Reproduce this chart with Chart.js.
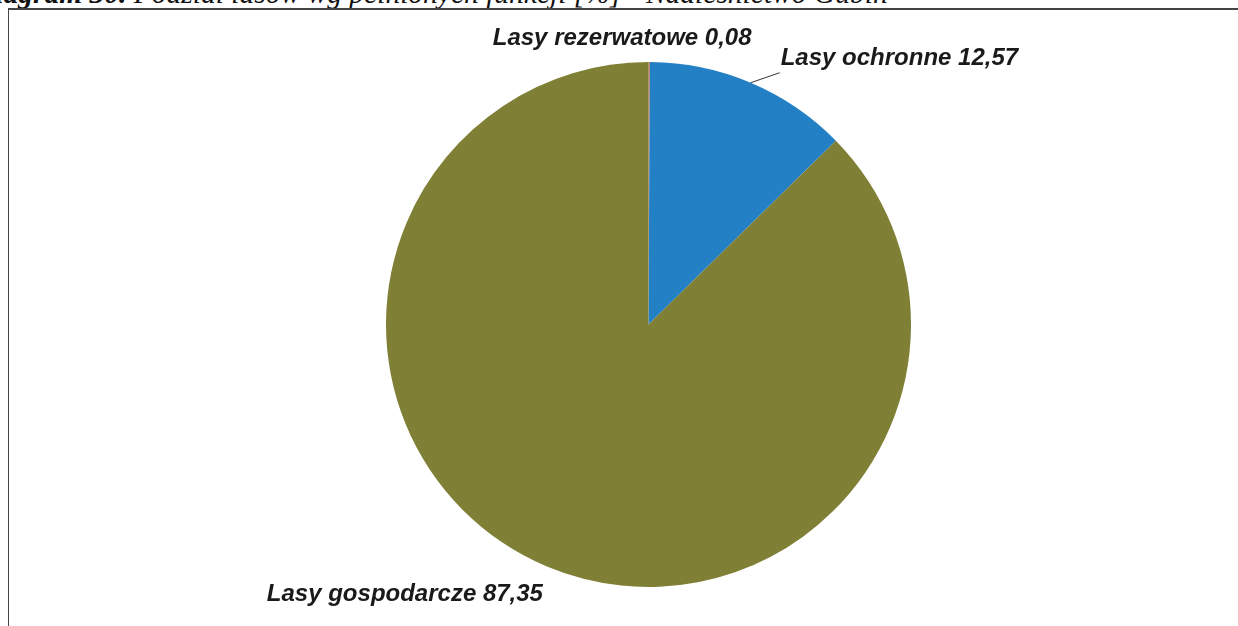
<!DOCTYPE html>
<html>
<head>
<meta charset="utf-8">
<script src="https://cdn.jsdelivr.net/npm/chart.js@4"></script>
<style>
  html, body { margin: 0; padding: 0; background: #ffffff; overflow: hidden; }
  #wrap { position: relative; width: 1238px; height: 626px; overflow: hidden; }
  #title { position: absolute; left: -26px; top: -21px; white-space: nowrap; line-height: 29px;
    font-family: "Liberation Serif", "DejaVu Serif", serif; font-style: italic; font-size: 29.5px; color: #111; }
  #frame { position: absolute; left: 8px; top: 8px; width: 1240px; height: 630px;
    border-left: 1px solid #444; border-top: 2px solid #444; box-sizing: border-box; }
  canvas { position: absolute; left: 0; top: 0; }
</style>
</head>
<body>
<div id="wrap">
  <div id="title"><b>Diagram 30.</b> Podział lasów wg pełnionych funkcji [%] - Nadleśnictwo Gubin</div>
  <div id="frame"></div>
  <canvas id="c" width="1238" height="626"></canvas>
</div>
<script>
const categories = ["Lasy rezerwatowe", "Lasy ochronne", "Lasy gospodarcze"];
const shares = [0.08, 12.57, 87.35];
const valueLabels = ["0,08", "12,57", "87,35"];
const sliceColors = ["#D9694A", "#2480C4", "#7F7F35"];

// label offsets relative to the slice's outer-edge mid point (layout only)
const labelPlacement = [
  { dx: -27, dy: -24, align: "center" },
  { dx: 30, dy: -24, align: "left", leader: true },
  { dx: -142, dy: 28, align: "center" }
];

const labelPlugin = {
  id: "sliceLabels",
  afterDatasetsDraw(chart) {
    const ctx = chart.ctx;
    const meta = chart.getDatasetMeta(0);
    ctx.save();
    ctx.font = "italic bold 24px 'Liberation Sans', Arial, sans-serif";
    ctx.fillStyle = "#1a1a1a";
    ctx.textBaseline = "middle";
    meta.data.forEach((arc, i) => {
      const p = arc.getProps(["x", "y", "startAngle", "endAngle", "outerRadius"], true);
      const mid = (p.startAngle + p.endAngle) / 2;
      const ex = p.x + Math.cos(mid) * p.outerRadius;
      const ey = p.y + Math.sin(mid) * p.outerRadius;
      const pl = labelPlacement[i];
      const lx = ex + pl.dx, ly = ey + pl.dy;
      if (pl.leader) {
        ctx.strokeStyle = "#333";
        ctx.lineWidth = 1;
        ctx.beginPath();
        ctx.moveTo(ex, ey);
        ctx.lineTo(lx - 1, ly + 14);
        ctx.stroke();
      }
      ctx.textAlign = pl.align;
      ctx.fillText(categories[i] + " " + valueLabels[i], lx, ly);
    });
    ctx.restore();
  }
};

new Chart(document.getElementById("c"), {
  type: "pie",
  data: {
    labels: categories,
    datasets: [{
      data: shares,
      backgroundColor: sliceColors,
      borderWidth: 0
    }]
  },
  options: {
    responsive: false,
    animation: false,
    layout: { padding: { top: 62, bottom: 39, left: 59, right: 0 } },
    plugins: { legend: { display: false }, tooltip: { enabled: false }, title: { display: false } }
  },
  plugins: [labelPlugin]
});
</script>
</body>
</html>
